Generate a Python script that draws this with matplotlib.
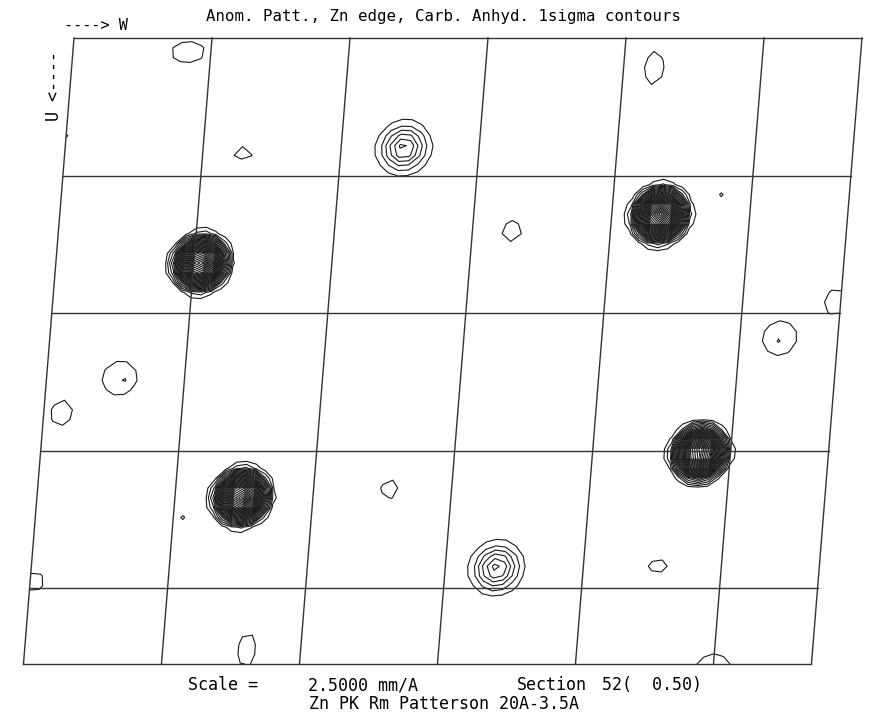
import numpy as np
import matplotlib
matplotlib.use("Agg")
import matplotlib.pyplot as plt
import matplotlib.transforms as mtransforms

# cell extent in grid units (W across, U down)
W_MAX = 5.71
U_MAX = 4.553

# peaks: position (w, u), height in sigma, width along w and u, profile power
# (the four Zn-Zn peaks are a flat body plus a sharp core)
peak_w = [1.05, 4.35, 4.777, 1.483,
          1.05, 4.35, 4.777, 1.483,
          2.455, 3.372,
          0.834, 1.291, 4.22, 4.789, 3.285, 0.53, 0.575, 0.13, 5.29, 5.275,
          5.67, 2.55, 1.05, 4.54, 0.03, 1.61, 5.0, 0.0]
peak_u = [1.636, 1.287, 3.018, 3.338,
          1.636, 1.287, 3.018, 3.338,
          0.80, 3.855,
          0.102, 0.836, 0.218, 1.156, 1.404, 2.473, 2.47, 2.727, 2.182, 2.21,
          1.92, 3.28, 3.505, 3.84, 3.956, 4.45, 4.56, 0.705]
peak_h = [18, 18, 18, 18,
          14, 14, 14, 14,
          6.5, 6.5,
          1.4, 1.3, 1.4, 1.47, 1.3, 1.9, 0.41, 1.4, 1.9, 0.236,
          1.4, 1.3, 1.85, 1.3, 1.3, 1.4, 1.4, 1.1]
peak_sw = [0.152, 0.152, 0.152, 0.152,
           0.075, 0.075, 0.075, 0.075,
           0.105, 0.105,
           0.15, 0.10, 0.088, 0.03, 0.10, 0.11, 0.03, 0.098, 0.11, 0.03,
           0.098, 0.09, 0.03, 0.10, 0.10, 0.08, 0.15, 0.06]
peak_su = [0.152, 0.152, 0.152, 0.152,
           0.075, 0.075, 0.075, 0.075,
           0.105, 0.105,
           0.098, 0.07, 0.15, 0.03, 0.11, 0.11, 0.03, 0.115, 0.11, 0.03,
           0.115, 0.10, 0.03, 0.08, 0.10, 0.15, 0.098, 0.06]
peak_p = [4, 4, 4, 4] + [2] * 24

levels = np.arange(1, 40)

fig = plt.figure(figsize=(8.69, 7.14), dpi=100)
ax = fig.add_axes([0, 0, 1, 1])
ax.set_xlim(0, 869)
ax.set_ylim(714, 0)
ax.axis("off")

# skewed cell -> page
cell = mtransforms.Affine2D(np.array([[138.0, -11.1, 74.0],
                                      [0.0, 137.5, 38.0],
                                      [0.0, 0.0, 1.0]]))
tr = cell + ax.transData

# map sampled on a coarse grid
gw = np.linspace(0, W_MAX, 81)
gu = np.linspace(0, U_MAX, 65)
GW, GU = np.meshgrid(gw, gu)
Z = np.zeros_like(GW)
for w, u, h, sw, su, p in zip(peak_w, peak_u, peak_h, peak_sw, peak_su, peak_p):
    rr = ((GW - w) / sw) ** 2 + ((GU - u) / su) ** 2
    Z += h * np.exp(-0.5 * rr ** (p / 2))

ax.contour(GW, GU, Z, levels=levels, colors="#1a1a1a", linewidths=0.8,
           transform=tr)

# cell grid
for w in [0, 1, 2, 3, 4, 5, W_MAX]:
    ax.plot([w, w], [0, U_MAX], color="#333333", lw=1.0, transform=tr)
for u in [0, 1, 2, 3, 4, U_MAX]:
    ax.plot([0, W_MAX], [u, u], color="#333333", lw=1.0, transform=tr)

mono = "DejaVu Sans Mono"
ax.text(444, 16, "Anom. Patt., Zn edge, Carb. Anhyd. 1sigma contours",
        ha="center", va="center", family=mono, fontsize=11.3)
ax.text(64, 26, "----> W", ha="left", va="center", family=mono, fontsize=11)
ax.text(54, 121, "U <----", ha="left", va="center", family=mono,
        fontsize=12, rotation=90, rotation_mode="anchor")
ax.text(188, 685, "Scale =", ha="left", va="center", family=mono, fontsize=12)
ax.text(308, 685, "2.5000 mm/A", ha="left", va="center", family=mono, fontsize=12)
ax.text(517, 685, "Section", ha="left", va="center", family=mono, fontsize=12)
ax.text(602, 685, "52(  0.50)", ha="left", va="center", family=mono, fontsize=12)
ax.text(309, 704, "Zn PK Rm Patterson 20A-3.5A",
        ha="left", va="center", family=mono, fontsize=12)

fig.savefig("out.png", dpi=100)
